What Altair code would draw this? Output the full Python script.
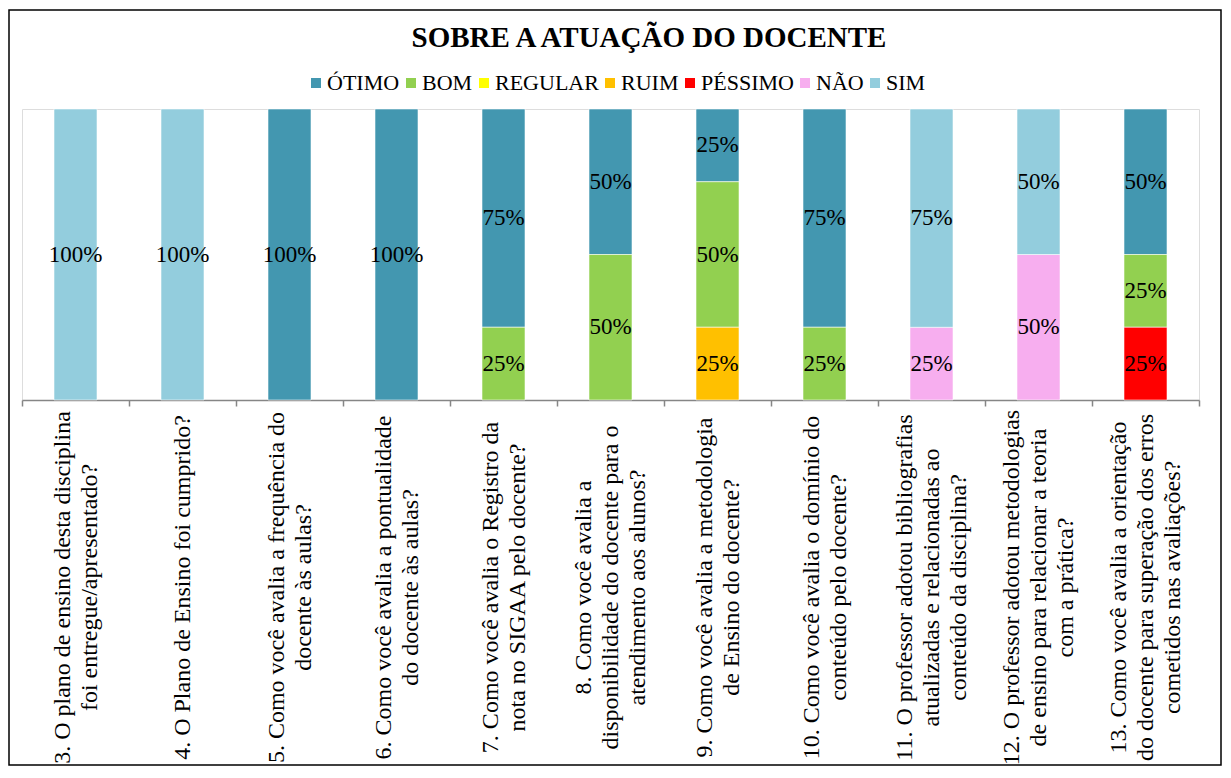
import altair as alt
import pandas as pd

labels = [
    "3. O plano de ensino desta disciplina|foi entregue/apresentado?",
    "4.  O Plano de Ensino foi cumprido?",
    "5. Como você avalia a frequência do|docente às aulas?",
    "6. Como você avalia a pontualidade|do docente às aulas?",
    "7. Como você avalia o Registro da|nota no SIGAA pelo docente?",
    "8. Como você avalia a|disponibilidade do docente para o|atendimento aos alunos?",
    "9. Como você avalia a metodologia|de Ensino do docente?",
    "10. Como você avalia o domínio do|conteúdo pelo docente?",
    "11. O professor adotou bibliografias|atualizadas e relacionadas ao|conteúdo da disciplina?",
    "12. O professor adotou metodologias|de ensino para relacionar a teoria|com a prática?",
    "13. Como você avalia a orientação|do docente para superação dos erros|cometidos nas avaliações?",
]

series = ["ÓTIMO", "BOM", "REGULAR", "RUIM", "PÉSSIMO", "NÃO", "SIM"]
colors = ["#4397B0", "#92D050", "#FFFF00", "#FFC000", "#FF0000", "#F7AEEF", "#93CDDD"]
stack_rank = [4, 3, 2, 1, 0, 5, 6]  # bottom (0) to top

otimo = [0, 0, 100, 100, 75, 50, 25, 75, 0, 0, 50]
bom = [0, 0, 0, 0, 25, 50, 50, 25, 0, 0, 25]
regular = [0, 0, 0, 0, 0, 0, 0, 0, 0, 0, 0]
ruim = [0, 0, 0, 0, 0, 0, 25, 0, 0, 0, 0]
pessimo = [0, 0, 0, 0, 0, 0, 0, 0, 0, 0, 25]
nao = [0, 0, 0, 0, 0, 0, 0, 0, 25, 50, 0]
sim = [100, 100, 0, 0, 0, 0, 0, 0, 75, 50, 0]

title_text = "SOBRE A ATUAÇÃO DO DOCENTE"

values = [otimo, bom, regular, ruim, pessimo, nao, sim]
rows = []
for s, vals, rk in zip(series, values, stack_rank):
    for lab, v in zip(labels, vals):
        if v > 0:
            rows.append({"q": lab, "serie": s, "value": v / 100.0, "ord": rk})
df = pd.DataFrame(rows)

FONT = "Liberation Serif, Times New Roman, serif"

base = alt.Chart(df).transform_stack(
    stack="value", groupby=["q"], sort=[alt.SortField("ord", order="ascending")], as_=["y0", "y1"]
).transform_calculate(mid="(datum.y0 + datum.y1) / 2")

LH = 27
xscale = alt.Scale(paddingInner=0, paddingOuter=0)
xenc = alt.X(
    "q:N",
    sort=labels,
    scale=xscale,
    axis=alt.Axis(
        title=None,
        labelExpr="split(datum.label, '|')",
        labelAngle=270,
        labelAlign="center",
        labelBaseline="middle",
        labelPadding=181,
        labelOffset={
            "condition": [
                {"test": "length(split(datum.label, '|')) == 3", "value": -LH},
                {"test": "length(split(datum.label, '|')) == 2", "value": -LH / 2},
            ],
            "value": 0,
        },
        labelFont=FONT,
        labelFontSize=24,
        labelColor="black",
        labelLineHeight=LH,
        labelLimit=0,
        labelOverlap=False,
        labelBound=False,
        tickBand="extent",
        tickSize=6,
        tickColor="#868686",
        tickWidth=1.5,
        domainColor="#868686",
        domainWidth=1.5,
    ),
)
yscale = alt.Scale(domain=[0, 1], nice=False)

bars = base.mark_bar(width=43, stroke="white", strokeWidth=0.8, strokeOpacity=0.7).encode(
    x=xenc,
    y=alt.Y("y0:Q", scale=yscale, axis=None),
    y2="y1:Q",
    color=alt.Color(
        "serie:N",
        scale=alt.Scale(domain=series, range=colors),
        legend=alt.Legend(
            title=None,
            orient="none",
            direction="horizontal",
            columns=7,
            legendX=283,
            legendY=-37,
            symbolType="square",
            symbolSize=100,
            symbolStrokeWidth=0,
            labelFont=FONT,
            labelFontSize=22,
            labelColor="black",
            labelOffset=0,
            columnPadding=0,
            padding=0,
        ),
        sort=series,
    ),
)

texts = base.mark_text(font=FONT, fontSize=23, color="black", baseline="middle").encode(
    x=alt.X("q:N", sort=labels, scale=xscale),
    y=alt.Y("mid:Q", scale=yscale),
    text=alt.Text("value:Q", format=".0%"),
)

title = alt.Chart(pd.DataFrame({"t": [title_text]})).mark_text(
    font=FONT, fontSize=29, fontWeight="bold", color="black", baseline="middle"
).encode(text="t:N", x=alt.value(627), y=alt.value(-71))

border = alt.Chart(pd.DataFrame({"b": [0]})).mark_rect(
    fill=None, stroke="black", strokeWidth=1.5
).encode(x=alt.value(-13), x2=alt.value(1199), y=alt.value(-99), y2=alt.value(656))

chart = alt.layer(bars, texts, title, border).properties(
    width=1177,
    height=291,
    padding={"left": 14, "top": 101, "right": 24, "bottom": 366},
    autosize=alt.AutoSizeParams(type="none"),
).configure_view(stroke=None).configure(background="white")

chart.save("out.html", embed_options={"renderer": "svg", "actions": False})
